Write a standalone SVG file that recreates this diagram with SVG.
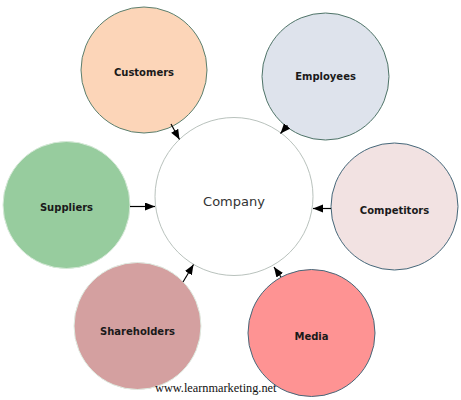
<svg xmlns="http://www.w3.org/2000/svg" width="461" height="400" viewBox="0 0 461 400">
<style>
.n{stroke-width:1}
.lbl{font-family:"DejaVu Sans",Verdana,sans-serif;font-size:10px;font-weight:bold;fill:#1a1a1a;text-anchor:middle}
.c{stroke:#000;stroke-width:1.2;fill:none}
</style>
<defs>
<marker id="ah" markerUnits="userSpaceOnUse" markerWidth="11" markerHeight="9" refX="10" refY="4" orient="auto">
<path d="M0,0 L10,4 L0,8 Z" fill="#000"/>
</marker>
</defs>
<rect width="461" height="400" fill="#fff"/>
<g id="customers"><circle class="n" cx="144" cy="70" r="63" fill="#fcd5b8" stroke="#5b7f6e"/><text class="lbl" x="144" y="76">Customers</text></g>
<g id="employees"><circle class="n" cx="325.5" cy="76.5" r="63.5" fill="#dee3ec" stroke="#4f7468"/><text class="lbl" x="325.5" y="80">Employees</text></g>
<g id="company"><circle cx="234" cy="196.5" r="79" fill="#fff" stroke="#b9c2bd" stroke-width="1"/><text x="234" y="206" font-family="'DejaVu Sans',Verdana,sans-serif" font-size="13" fill="#333" text-anchor="middle">Company</text></g>
<g id="suppliers"><circle class="n" cx="66.5" cy="205" r="63.5" fill="#97cc9e" stroke="#d6e9d8"/><text class="lbl" x="66.5" y="211">Suppliers</text></g>
<g id="competitors"><circle class="n" cx="394.5" cy="206.5" r="63.5" fill="#f2e2e2" stroke="#46687a"/><text class="lbl" x="394.5" y="214">Competitors</text></g>
<g id="shareholders"><circle class="n" cx="137.5" cy="326" r="63.5" fill="#d4a0a0" stroke="#dfece2"/><text class="lbl" x="137.5" y="335">Shareholders</text></g>
<g id="media"><circle class="n" cx="311.5" cy="333" r="63.5" fill="#fe9393" stroke="#46687a"/><text class="lbl" x="311.5" y="340">Media</text></g>
<g id="connectors">
<line class="c" x1="171" y1="124" x2="179.5" y2="139.5" marker-end="url(#ah)"/>
<line class="c" x1="287.5" y1="125.5" x2="280.5" y2="133.5" marker-end="url(#ah)"/>
<line class="c" x1="130" y1="206.5" x2="155" y2="206.5" marker-end="url(#ah)"/>
<line class="c" x1="331" y1="208.5" x2="313" y2="208.5" marker-end="url(#ah)"/>
<line class="c" x1="183" y1="282" x2="193.5" y2="264.5" marker-end="url(#ah)"/>
<line class="c" x1="281" y1="277" x2="274" y2="267" marker-end="url(#ah)"/>
</g>
<text x="155" y="392" font-family="'Liberation Serif','Times New Roman',serif" font-size="12.3" fill="#111">www.learnmarketing.net</text>
</svg>
